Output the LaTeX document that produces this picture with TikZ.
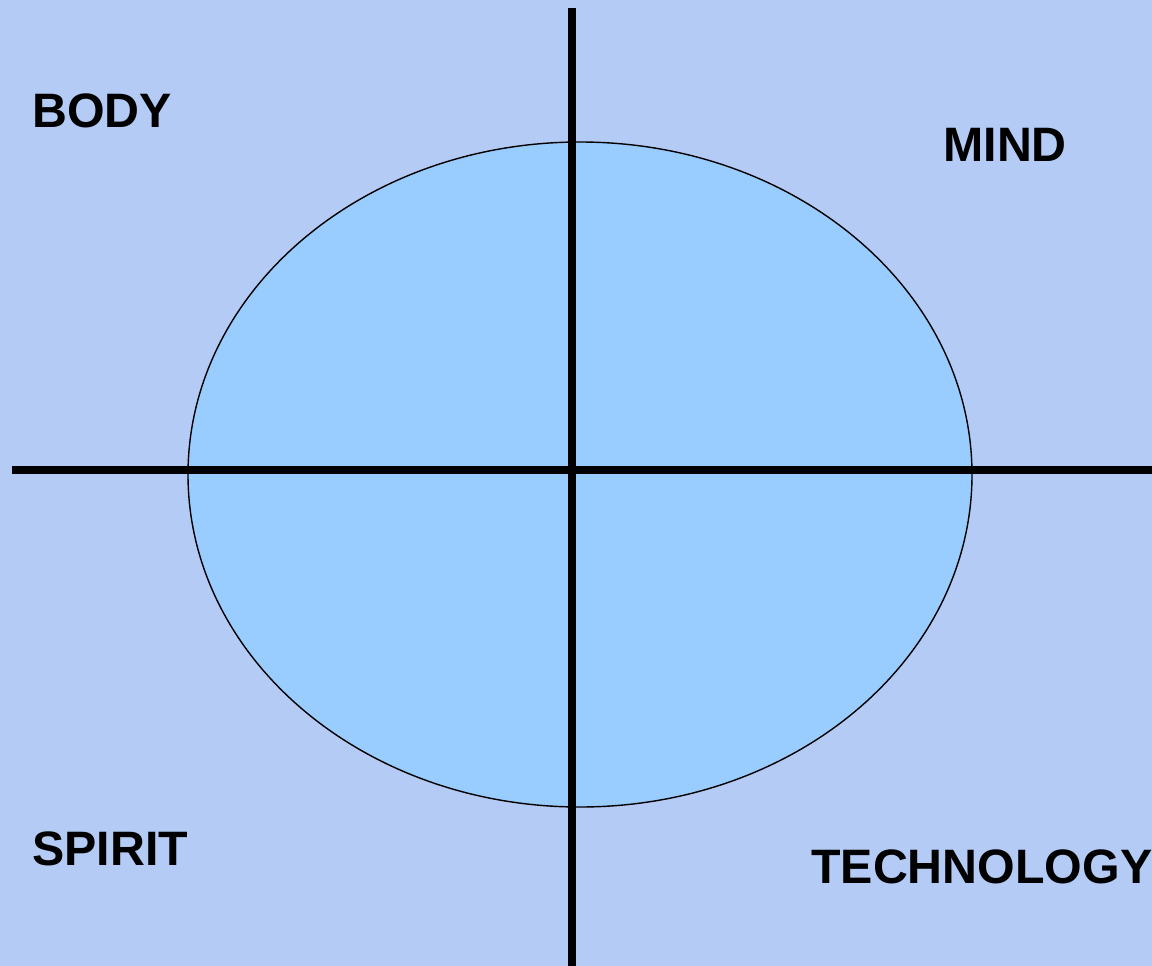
\documentclass[tikz,border=0pt]{standalone}
\usepackage{fontspec}
\setmainfont{Liberation Sans}
\usepackage{tikz}
\usetikzlibrary{calc}
\usepackage{xcolor}

\definecolor{BgBlue}{RGB}{180,203,245}
\definecolor{EllBlue}{RGB}{153,204,255}

\begin{document}
\begin{tikzpicture}[x=0.02cm,y=-0.02cm,
    axis/.style={line width=4pt,black},
    quad/.style={inner sep=0pt,anchor=base west,font=\fontsize{27.5}{31}\selectfont\bfseries}]

    % Latar belakang
    \fill[BgBlue] (0,0) rectangle (1152,966);
    \useasboundingbox (0,0) rectangle (1152,966);

    % Elips di tengah
    \filldraw[draw=black,fill=EllBlue,line width=0.8pt] (580,474.5) ellipse [x radius=392,y radius=332.5];

    % Titik ujung sumbu
    \coordinate (top) at (572,8);
    \coordinate (bottom) at (572,966);
    \coordinate (left) at (12,470);
    \coordinate (right) at (1152,470);

    % Gambar sumbu
    \draw[axis] (top)--(bottom);
    \draw[axis] (left)--(right);

    % Label tiap kuadran
    \node[quad] (body) at (32,128) {BODY};
    \node[quad] (mind) at (943,162) {MIND};
    \node[quad] (spirit) at (32,865) {SPIRIT};
    \node[quad] (tech) at (811,883) {TECHNOLOGY};

\end{tikzpicture}
\end{document}
